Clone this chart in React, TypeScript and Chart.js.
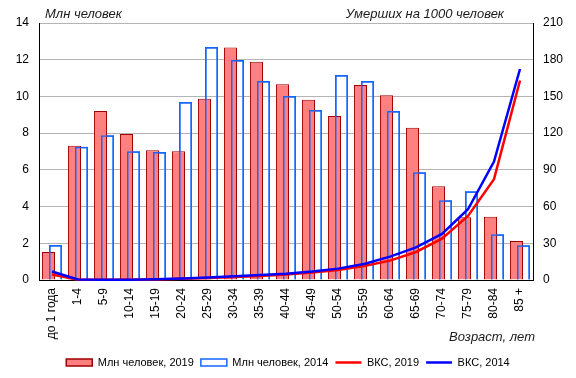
import React, { useEffect, useRef } from "react";
import { Chart, registerables } from "chart.js";

Chart.register(...registerables);

const ageGroups = ["до 1 года", "1-4", "5-9", "10-14", "15-19", "20-24", "25-29", "30-34", "35-39", "40-44", "45-49", "50-54", "55-59", "60-64", "65-69", "70-74", "75-79", "80-84", "85 +"];
const population2019 = [1.52, 7.31, 9.2, 7.96, 7.07, 7.02, 9.87, 12.67, 11.89, 10.67, 9.82, 8.93, 10.62, 10.07, 8.29, 5.11, 3.42, 3.45, 2.13];
const population2014 = [1.91, 7.26, 7.89, 7.02, 6.97, 9.69, 12.69, 11.98, 10.84, 10.02, 9.26, 11.17, 10.84, 9.2, 5.87, 4.35, 4.84, 2.49, 1.89];
const mortality2019 = [4.5, 0.3, 0.2, 0.2, 0.5, 1.0, 1.6, 2.4, 3.3, 4.5, 6.2, 8.2, 11.5, 15.8, 22.9, 33.8, 52.4, 82.4, 163];
const mortality2014 = [7.0, 0.4, 0.2, 0.3, 0.6, 1.2, 2.1, 3.0, 4.0, 5.2, 7.0, 9.3, 13.1, 19.1, 26.7, 37.6, 57.8, 96.8, 172.4];

const seriesNames = ["Млн человек, 2019", "Млн человек, 2014", "ВКС, 2019", "ВКС, 2014"];
const leftTitle = "Млн человек";
const rightTitle = "Умерших на 1000 человек";
const xTitle = "Возраст, лет";

const FONT = '"Liberation Sans", Arial, sans-serif';

const overlayPlugin = {
  id: "overlay",
  afterDatasetDraw(chart: any, args: any) {
    // redraw the hollow 2014 bars over the filled 2019 bars
    if (args.index === 0) {
      const meta = chart.getDatasetMeta(1);
      if (meta && meta.controller) meta.controller.draw();
    }
  },
  afterDraw(chart: any) {
    const { ctx, chartArea } = chart;
    ctx.save();
    ctx.font = "italic 13px " + FONT;
    ctx.fillStyle = "#1a1a1a";
    ctx.textBaseline = "middle";
    ctx.textAlign = "left";
    ctx.fillText(leftTitle, chartArea.left + 6, chartArea.top - 9);
    ctx.textAlign = "right";
    ctx.fillText(rightTitle, chartArea.right - 29, chartArea.top - 9);
    ctx.fillText(xTitle, chartArea.right + 2, chartArea.bottom + 57);
    ctx.restore();
  },
};

export default function App() {
  const ref = useRef<HTMLCanvasElement>(null);

  useEffect(() => {
    if (!ref.current) return;
    const barCommon = {
      type: "bar" as const,
      yAxisID: "y",
      categoryPercentage: 0.54,
      barPercentage: 1.86,
      order: 1,
    };
    const chart = new Chart(ref.current, {
      type: "bar",
      data: {
        labels: ageGroups,
        datasets: [
          {
            ...barCommon,
            label: seriesNames[0],
            data: population2019,
            backgroundColor: "#ff8080",
            borderColor: "#a00000",
            borderWidth: 1,
          },
          {
            ...barCommon,
            label: seriesNames[1],
            data: population2014,
            backgroundColor: "rgba(0,0,0,0)",
            borderColor: "#1466ff",
            borderWidth: 1.5,
          },
          {
            type: "line",
            label: seriesNames[2],
            data: mortality2019,
            yAxisID: "y1",
            borderColor: "#ff0000",
            backgroundColor: "#ff0000",
            borderWidth: 2.5,
            pointRadius: 0,
            tension: 0,
            order: 0,
            clip: false,
          },
          {
            type: "line",
            label: seriesNames[3],
            data: mortality2014,
            yAxisID: "y1",
            borderColor: "#0000ff",
            backgroundColor: "#0000ff",
            borderWidth: 2.5,
            pointRadius: 0,
            tension: 0,
            order: -1,
            clip: false,
          },
        ] as any,
      },
      options: {
        responsive: false,
        animation: false,
        layout: { padding: { top: 23, left: 0, right: 0, bottom: 0 } },
        plugins: {
          tooltip: { enabled: false },
          title: { display: false },
          legend: {
            position: "bottom",
            labels: {
              usePointStyle: true,
              pointStyleWidth: 26,
              boxHeight: 7,
              padding: 7,
              color: "#000",
              font: { family: FONT, size: 11 },
              generateLabels: (chart: any) =>
                chart.data.datasets.map((ds: any, i: number) => ({
                  text: ds.label,
                  fillStyle: ds.backgroundColor,
                  strokeStyle: ds.borderColor,
                  lineWidth: i < 2 ? 1.5 : 2.5,
                  pointStyle: i < 2 ? "rect" : "line",
                  hidden: false,
                  datasetIndex: i,
                  fontColor: "#000",
                })),
            },
          },
        },
        scales: {
          x: {
            type: "category",
            offset: true,
            grid: { display: false, drawTicks: false },
            border: { display: true, color: "#000", width: 1 },
            ticks: {
              autoSkip: false,
              maxRotation: 90,
              minRotation: 90,
              padding: 8,
              color: "#000",
              font: { family: FONT, size: 12 },
            },
            afterFit: (scale: any) => {
              scale.height = 70;
            },
          },
          y: {
            position: "left",
            min: 0,
            max: 14,
            ticks: {
              stepSize: 2,
              padding: 10,
              color: "#000",
              font: { family: FONT, size: 12 },
            },
            grid: {
              color: "#b4b4b4",
              lineWidth: 1,
              drawTicks: false,
            },
            border: { display: true, color: "#000", width: 1 },
            afterFit: (scale: any) => {
              scale.width = 39;
            },
          },
          y1: {
            position: "right",
            min: 0,
            max: 210,
            ticks: {
              stepSize: 30,
              padding: 10,
              color: "#000",
              font: { family: FONT, size: 12 },
            },
            grid: { display: false, drawTicks: false },
            border: { display: true, color: "#000", width: 1 },
            afterFit: (scale: any) => {
              scale.width = 43;
            },
          },
        },
      } as any,
      plugins: [overlayPlugin],
    });
    return () => chart.destroy();
  }, []);

  return (
    <div style={{ position: "absolute", left: 0, top: 0, width: 576, height: 378, background: "#fff" }}>
      <canvas ref={ref} width={576} height={378} style={{ width: 576, height: 378, display: "block" }} />
    </div>
  );
}
